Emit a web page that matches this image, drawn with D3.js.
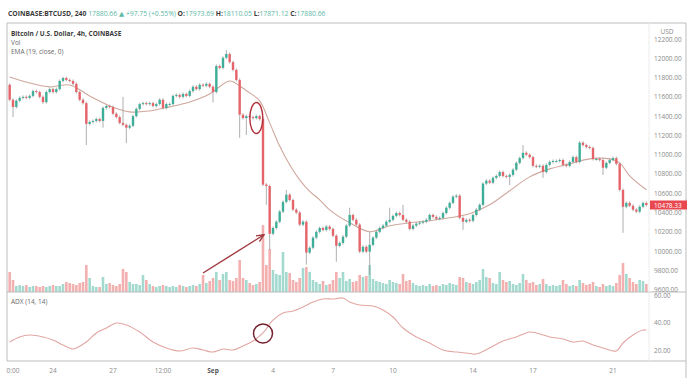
<!DOCTYPE html>
<html>
<head>
<meta charset="utf-8">
<title>Bitcoin / U.S. Dollar, 4h</title>
<script src="https://cdn.jsdelivr.net/npm/d3@7"></script>
<style>
  body { margin: 0; background: #fff; }
  svg { display: block; font-family: "Open Sans", "DejaVu Sans", sans-serif; }
</style>
</head>
<body>
<svg id="chart" width="700" height="383"></svg>
<script>
// 4h candles, the first one opens Aug 21 2020 20:00
var firstCandle = new Date(2020, 7, 21, 20);
var firstOpen = 11725;

var closes = [
  11570, 11495, 11560, 11590, 11600, 11590, 11610, 11660, 11650, 11600,
  11545, 11650, 11680, 11650, 11680, 11765, 11795, 11775, 11765, 11735,
  11650, 11570, 11535, 11320, 11340, 11350, 11370, 11350, 11485, 11505,
  11495, 11425, 11390, 11330, 11310, 11280, 11300, 11400, 11475, 11525,
  11535, 11525, 11535, 11505, 11525, 11570, 11485, 11525, 11525, 11610,
  11620, 11600, 11630, 11610, 11660, 11705, 11680, 11725, 11715, 11735,
  11705, 11650, 11920, 11900, 12005, 12045, 11960, 11880, 11775, 11415,
  11380, 11400, 11390, 11380, 11400, 11370, 10690, 10675, 10180, 10240,
  10305, 10410, 10510, 10585, 10530, 10430, 10400, 10275, 10305, 9985,
  10035, 10140, 10200, 10240, 10220, 10255, 10230, 10160, 10055, 10085,
  10150, 10265, 10375, 10325, 10275, 9995, 10045, 9995, 10065, 10140,
  10200, 10240, 10265, 10305, 10325, 10365, 10395, 10375, 10325, 10305,
  10230, 10265, 10285, 10295, 10305, 10325, 10375, 10355, 10335, 10345,
  10395, 10450, 10500, 10565, 10575, 10345, 10305, 10325, 10315, 10375,
  10430, 10480, 10700, 10730, 10710, 10760, 10780, 10820, 10780, 10770,
  10790, 10845, 10915, 10965, 11020, 11000, 10975, 10885, 10875, 10885,
  10820, 10895, 10925, 10935, 10935, 10945, 10895, 10885, 10925, 10975,
  10925, 11125, 11100, 11080, 11070, 10955, 10955, 10945, 10865, 10915,
  10945, 10965, 10905, 10635, 10460, 10500, 10470, 10430, 10410, 10460,
  10500, 10478.33
];

var volumes = [
  2000, 1200, 600, 700, 600, 700, 500, 600, 600, 500,
  600, 500, 600, 700, 600, 600, 800, 1000, 900, 800,
  700, 900, 1000, 2700, 1400, 600, 500, 500, 1500, 800,
  900, 700, 600, 800, 2300, 2000, 1000, 800, 800, 700,
  1700, 1200, 800, 600, 500, 600, 700, 600, 500, 600,
  500, 700, 600, 500, 600, 700, 600, 800, 1700, 900,
  1100, 1400, 2000, 1200, 1800, 2000, 1200, 1100, 1400, 3200,
  1400, 1200, 900, 700, 800, 1000, 6700, 2700, 4300, 2200,
  1800, 1700, 4000, 2000, 1900, 1200, 1000, 1400, 2400, 2500,
  2000, 1200, 1000, 800, 1100, 700, 800, 1200, 2000, 1400,
  2000, 1100, 1300, 1000, 1100, 1700, 1500, 1600, 2700, 1300,
  1100, 1000, 900, 800, 1200, 1000, 900, 800, 1800, 1100,
  1200, 900, 700, 600, 700, 600, 800, 600, 700, 600,
  800, 700, 900, 800, 700, 1500, 1400, 1000, 900, 800,
  1000, 1200, 2300, 1500, 1400, 900, 800, 2000, 1200, 1000,
  1100, 800, 700, 900, 1800, 1200, 900, 1000, 700, 800,
  1300, 800, 600, 700, 600, 700, 1200, 800, 600, 700,
  600, 1200, 900, 700, 800, 1000, 600, 500, 800, 600,
  700, 600, 900, 1700, 2900, 1800, 1400, 1000, 800, 1200,
  1100, 800
];

// [candle index, high, low] for the candles with long wicks
var longWicks = [
  [1, null, 11390], [23, null, 11100], [28, null, 11280], [34, 11600, null],
  [35, null, 11120], [61, null, 11540], [65, 12085, null], [69, null, 11175],
  [71, null, 11205], [77, null, 10480], [78, null, 10015], [83, 10635, null],
  [89, null, 9860], [98, null, 9890], [102, 10450, null], [108, 10200, 9755],
  [114, 10450, null], [118, 10480, null], [136, null, 10220], [150, null, 10685],
  [154, 11100, null], [160, null, 10760], [178, null, 10790], [184, null, 10190]
];

// EMA (19): [candle index, value]
var emaPoints = [
  [0, 11806], [6, 11744], [12, 11703], [18, 11723], [24, 11609], [30, 11506],
  [36, 11444], [42, 11454], [48, 11496], [54, 11547], [60, 11630], [66, 11765],
  [69, 11713], [72, 11641], [75, 11558], [78, 11330], [81, 11090], [84, 10895],
  [87, 10739], [90, 10620], [93, 10532], [96, 10428], [102, 10294], [108, 10201],
  [114, 10263], [120, 10294], [126, 10315], [132, 10346], [138, 10387], [144, 10480],
  [150, 10626], [156, 10770], [162, 10853], [168, 10905], [174, 10957], [180, 10957],
  [183, 10915], [186, 10781], [191, 10636]
];

// ADX (14, 14): [candle index, value]
var adxPoints = [
  [0, 25.8], [3, 29.5], [6, 30.9], [10, 29.5], [13, 27.3], [16, 23.6], [19, 20.7],
  [20, 21.5], [23, 25.8], [26, 32.4], [29, 36.0], [32, 39.6], [35, 38.2], [39, 33.1],
  [43, 25.8], [47, 21.5], [51, 19.3], [55, 21.5], [58, 20.0], [61, 18.5], [64, 20.7],
  [67, 20.0], [70, 22.9], [73, 26.5], [76, 32.4], [79, 41.8], [82, 46.9], [85, 48.4],
  [88, 51.3], [91, 54.9], [94, 57.1], [97, 57.1], [100, 57.8], [102, 54.9], [105, 52.7],
  [109, 52.0], [112, 49.1], [115, 44.0], [118, 36.0], [122, 29.5], [126, 25.1],
  [130, 20.0], [134, 18.5], [137, 17.8], [140, 17.1], [144, 21.5], [148, 26.5],
  [152, 29.5], [156, 33.1], [158, 32.4], [162, 29.5], [166, 28.0], [169, 25.8],
  [172, 26.5], [175, 23.6], [178, 21.5], [182, 19.3], [184, 25.1], [187, 30.9],
  [190, 34.5], [191, 34.5]
];

var priceTicks = [12200, 12000, 11800, 11600, 11400, 11200, 11000, 10800, 10600, 10400, 10200, 10000, 9800, 9600];
var adxTicks = [60, 40, 20];
var timeTicks = [
  [new Date(2020, 7, 22, 0), "0:00"], [new Date(2020, 7, 24), "24"], [new Date(2020, 7, 27), "27"],
  [new Date(2020, 7, 29, 12), "12:00"], [new Date(2020, 8, 1), "Sep"], [new Date(2020, 8, 4), "4"],
  [new Date(2020, 8, 7), "7"], [new Date(2020, 8, 10), "10"], [new Date(2020, 8, 14), "14"],
  [new Date(2020, 8, 17), "17"], [new Date(2020, 8, 21), "21"]
];

var upColor = "#3fae98", downColor = "#e5646a";
var upVol = "#a3d9cf", downVol = "#f3b0b0";

var candles = closes.map(function (c, i) {
  var o = i === 0 ? firstOpen : closes[i - 1];
  return { t: d3.timeHour.offset(firstCandle, 4 * i), o: o, c: c, h: null, l: null, v: volumes[i] };
});
longWicks.forEach(function (w) {
  candles[w[0]].h = w[1];
  candles[w[0]].l = w[2];
});
var tOf = function (i) { return d3.timeHour.offset(firstCandle, 4 * i); };

var svg = d3.select("#chart");
var paneLeft = 7, paneRight = 649, axisRight = 686;
var paneTop = 23, paneSep = 292, paneBottom = 361;

var x = d3.scaleTime()
  .domain([new Date(2020, 7, 21), new Date(2020, 8, 23)])
  .range([-7, 653]);
var y = d3.scaleLinear().domain([9600, 12200]).range([289.7, 39]);
var yVol = d3.scaleLinear().domain([0, d3.max(volumes)]).range([paneSep, 225]);
var yAdx = d3.scaleLinear().domain([20, 60]).range([350, 295]);

var defs = svg.append("defs");
defs.append("clipPath").attr("id", "mainClip").append("rect")
  .attr("x", paneLeft + 1).attr("y", paneTop).attr("width", paneRight - paneLeft - 1).attr("height", paneSep - paneTop);
defs.append("clipPath").attr("id", "adxClip").append("rect")
  .attr("x", paneLeft + 1).attr("y", paneSep).attr("width", paneRight - paneLeft - 1).attr("height", paneBottom - paneSep);
var marker = defs.append("marker").attr("id", "arrowHead")
  .attr("viewBox", "0 0 10 10").attr("refX", 9).attr("refY", 5)
  .attr("markerWidth", 6).attr("markerHeight", 6).attr("orient", "auto");
marker.append("path").attr("d", "M0,1 L9,5 L0,9").attr("fill", "none")
  .attr("stroke", "#a0393f").attr("stroke-width", 1.6);

// volume
var main = svg.append("g").attr("clip-path", "url(#mainClip)");
main.append("g").selectAll("rect").data(candles).join("rect")
  .attr("x", function (d) { return x(d.t) - 1.3; })
  .attr("width", 2.6)
  .attr("y", function (d) { return yVol(d.v); })
  .attr("height", function (d) { return paneSep - yVol(d.v); })
  .attr("fill", function (d) { return d.c >= d.o ? upVol : downVol; });

// EMA
var ema = d3.line()
  .x(function (d) { return x(tOf(d[0])); })
  .y(function (d) { return y(d[1]); })
  .curve(d3.curveCatmullRom);
main.append("path").datum(emaPoints).attr("d", ema)
  .attr("fill", "none").attr("stroke", "#cfa79d").attr("stroke-width", 1.1);

// candles
var cg = main.append("g").selectAll("g").data(candles).join("g");
cg.append("line")
  .attr("x1", function (d) { return x(d.t); })
  .attr("x2", function (d) { return x(d.t); })
  .attr("y1", function (d) { return d.h !== null ? y(d.h) : y(Math.max(d.o, d.c)) - 1.5; })
  .attr("y2", function (d) { return d.l !== null ? y(d.l) : y(Math.min(d.o, d.c)) + 1.5; })
  .attr("stroke", "#9a9a9a").attr("stroke-width", 0.8);
cg.append("rect")
  .attr("x", function (d) { return x(d.t) - 1.2; })
  .attr("width", 2.4)
  .attr("y", function (d) { return y(Math.max(d.o, d.c)); })
  .attr("height", function (d) { return Math.max(1, Math.abs(y(d.o) - y(d.c))); })
  .attr("fill", function (d) { return d.c >= d.o ? upColor : downColor; });

// ADX
var adx = d3.line()
  .x(function (d) { return x(tOf(d[0])); })
  .y(function (d) { return yAdx(d[1]); })
  .curve(d3.curveCatmullRom);
svg.append("g").attr("clip-path", "url(#adxClip)")
  .append("path").datum(adxPoints).attr("d", adx)
  .attr("fill", "none").attr("stroke", "#e2a6a2").attr("stroke-width", 1.1);

// frame
var frame = svg.append("g").attr("stroke", "#bdbdbd").attr("stroke-width", 1).attr("fill", "none");
frame.append("path").attr("d", "M" + paneLeft + "," + paneBottom + "V" + paneTop + "H" + axisRight + "V378");
frame.append("line").attr("x1", paneLeft).attr("x2", axisRight).attr("y1", paneSep).attr("y2", paneSep);
frame.append("line").attr("x1", paneLeft).attr("x2", axisRight).attr("y1", paneBottom).attr("y2", paneBottom);
frame.append("line").attr("x1", paneRight).attr("x2", paneRight).attr("y1", paneTop).attr("y2", paneBottom)
  .attr("stroke", "#ececec");

// price axis
var axisText = svg.append("g").attr("font-size", 6.5).attr("fill", "#8a8a8a");
axisText.append("text").attr("x", 667).attr("y", 31).attr("text-anchor", "middle")
  .attr("dominant-baseline", "central").text("USD");
axisText.selectAll(".p").data(priceTicks).join("text")
  .attr("x", 654).attr("y", function (d) { return y(d); })
  .attr("dominant-baseline", "central")
  .text(function (d) { return d3.format(".2f")(d); });
axisText.selectAll(".a").data(adxTicks).join("text")
  .attr("x", 654).attr("y", function (d) { return yAdx(d); })
  .attr("dominant-baseline", "central")
  .text(function (d) { return d3.format(".2f")(d); });

// last price tag
var last = closes[closes.length - 1];
svg.append("rect").attr("x", 650).attr("y", y(last) - 4.5).attr("width", 37).attr("height", 9)
  .attr("fill", "#e8474f");
svg.append("text").attr("x", 654).attr("y", y(last)).attr("dominant-baseline", "central")
  .attr("font-size", 6.5).attr("fill", "#fff").text(d3.format(".2f")(last));

// time axis
svg.append("g").attr("font-size", 6.5).attr("fill", "#8a8a8a")
  .selectAll("text").data(timeTicks).join("text")
  .attr("x", function (d) { return x(d[0]); }).attr("y", 370)
  .attr("text-anchor", "middle").attr("dominant-baseline", "central")
  .attr("font-weight", function (d) { return d[1] === "Sep" ? "bold" : null; })
  .attr("fill", function (d) { return d[1] === "Sep" ? "#555" : null; })
  .text(function (d) { return d[1]; });

// header and legends
var head = svg.append("text").attr("x", 8).attr("y", 13).attr("dominant-baseline", "central")
  .attr("font-size", 6.8).attr("fill", "#5cb8a6");
head.append("tspan").attr("font-weight", "bold").attr("fill", "#3a3a3a").text("COINBASE:BTCUSD, 240 ");
head.append("tspan").text("17880.66 \u25B2 +97.75 (+0.55%) ");
head.append("tspan").attr("font-weight", "bold").attr("fill", "#3a3a3a").text("O:");
head.append("tspan").text("17973.69 ");
head.append("tspan").attr("font-weight", "bold").attr("fill", "#3a3a3a").text("H:");
head.append("tspan").text("18110.05 ");
head.append("tspan").attr("font-weight", "bold").attr("fill", "#3a3a3a").text("L:");
head.append("tspan").text("17871.12 ");
head.append("tspan").attr("font-weight", "bold").attr("fill", "#3a3a3a").text("C:");
head.append("tspan").text("17880.66");

var legend = svg.append("g").attr("font-size", 6.5).attr("fill", "#6a6a6a");
legend.append("text").attr("x", 11).attr("y", 33).attr("dominant-baseline", "central")
  .attr("font-weight", "bold").attr("fill", "#3a3a3a").text("Bitcoin / U.S. Dollar, 4h, COINBASE");
legend.append("text").attr("x", 11).attr("y", 42).attr("dominant-baseline", "central").text("Vol");
legend.append("text").attr("x", 11).attr("y", 51).attr("dominant-baseline", "central").text("EMA (19, close, 0)");
legend.append("text").attr("x", 11).attr("y", 301).attr("dominant-baseline", "central").text("ADX (14, 14)");

// annotations
svg.append("ellipse").attr("cx", x(tOf(74))).attr("cy", y(11380)).attr("rx", 6.5).attr("ry", 15.5)
  .attr("fill", "none").attr("stroke", "#b3323c").attr("stroke-width", 1.4);
svg.append("line")
  .attr("x1", x(tOf(58))).attr("y1", yVol(1900))
  .attr("x2", x(tOf(76)) + 1).attr("y2", y(10170))
  .attr("stroke", "#a0393f").attr("stroke-width", 1.4).attr("marker-end", "url(#arrowHead)");
svg.append("circle").attr("cx", x(tOf(76))).attr("cy", yAdx(32)).attr("r", 9.5)
  .attr("fill", "none").attr("stroke", "#74202c").attr("stroke-width", 1.5);
</script>
</body>
</html>
